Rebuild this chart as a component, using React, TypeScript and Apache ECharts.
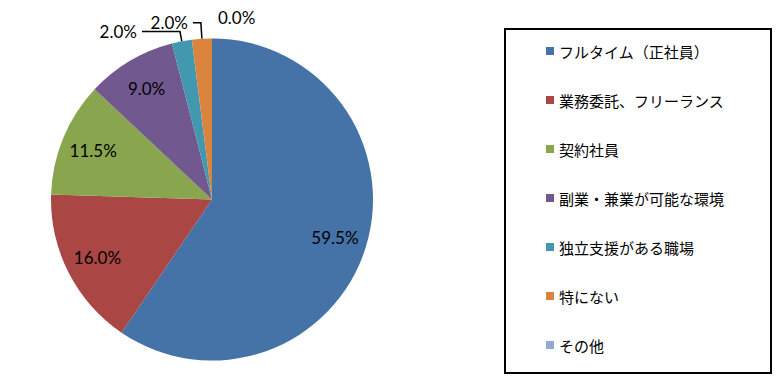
import React, { useEffect, useRef } from "react";
import * as echarts from "echarts";

const categories = [
  "フルタイム（正社員）",
  "業務委託、フリーランス",
  "契約社員",
  "副業・兼業が可能な環境",
  "独立支援がある職場",
  "特にない",
  "その他",
];
const values = [59.5, 16.0, 11.5, 9.0, 2.0, 2.0, 0.0];
const colors = ["#4572A7", "#AA4643", "#89A54E", "#71588F", "#4198AF", "#DB843D", "#93A9CF"];
// which slices have labels drawn inside the pie
const insideLabel = [true, true, true, true, false, false, false];
// leader line settings for outside labels [length, length2]
const outsideLines: Array<[number, number] | null> = [
  null, null, null, null, [10, 38], [16, 8], null,
];
// index of the zero-sized slice whose label sits just right of 12 o'clock
const zeroLabelIndex = 6;

const fmt = (v: number) => v.toFixed(1) + "%";

export default function App() {
  const ref = useRef<HTMLDivElement>(null);
  useEffect(() => {
    document.body.style.margin = "0";
    const chart = echarts.init(ref.current!, null, { renderer: "svg" });
    const labelFont = { fontFamily: "Lato", fontSize: 17, color: "#000" };
    const cx = 212;
    const cy = 199.5;
    const R = 161;
    const total = values.reduce((a, b) => a + b, 0);
    const cumBefore = values.slice(0, zeroLabelIndex).reduce((a, b) => a + b, 0);
    const midFrac = (cumBefore + values[zeroLabelIndex] / 2) / total;
    const ang = midFrac * Math.PI * 2;
    const zx = cx + R * Math.sin(ang);
    const zy = cy - R * Math.cos(ang);
    chart.setOption({
      animation: false,
      color: colors,
      legend: {
        orient: "vertical",
        left: 541,
        top: 38,
        itemWidth: 8,
        itemHeight: 8,
        itemGap: 33,
        icon: "rect",
        selectedMode: false,
        data: categories,
        textStyle: {
          fontFamily: "Noto Sans CJK JP",
          fontSize: 15,
          lineHeight: 16,
          color: "#000",
        },
      },
      graphic: [
        {
          type: "rect",
          shape: { x: 505, y: 29, width: 266, height: 344 },
          style: { fill: "none", stroke: "#000", lineWidth: 2 },
          silent: true,
        },
        {
          type: "text",
          x: zx + 6,
          y: zy - 21,
          silent: true,
          style: {
            text: fmt(values[zeroLabelIndex]),
            font: "17px Lato",
            fill: "#000",
            align: "left",
            verticalAlign: "middle",
          },
        },
      ],
      series: [
        {
          type: "pie",
          center: [cx, cy],
          radius: R,
          startAngle: 90,
          clockwise: true,
          avoidLabelOverlap: false,
          emphasis: { disabled: true },
          data: categories.map((name, i) => {
            const ol = outsideLines[i];
            return {
              name,
              value: values[i],
              itemStyle: { color: colors[i] },
              label: ol
                ? { show: true, position: "outside", ...labelFont, formatter: () => fmt(values[i]) }
                : { show: false },
              labelLine: ol
                ? { show: true, length: ol[0], length2: ol[1], smooth: false, lineStyle: { color: "#000", width: 1.5 } }
                : { show: false },
            };
          }),
        },
        {
          type: "pie",
          center: [cx, cy],
          radius: [R * 0.56, R],
          startAngle: 90,
          clockwise: true,
          silent: true,
          avoidLabelOverlap: false,
          emphasis: { disabled: true },
          itemStyle: { color: "rgba(0,0,0,0)" },
          labelLine: { show: false },
          data: categories.map((name, i) => ({
            name,
            value: values[i],
            label: insideLabel[i]
              ? { show: true, position: "inside", ...labelFont, formatter: () => fmt(values[i]) }
              : { show: false },
          })),
        },
      ],
    });
    return () => chart.dispose();
  }, []);
  return <div ref={ref} style={{ width: 780, height: 384 }} />;
}
